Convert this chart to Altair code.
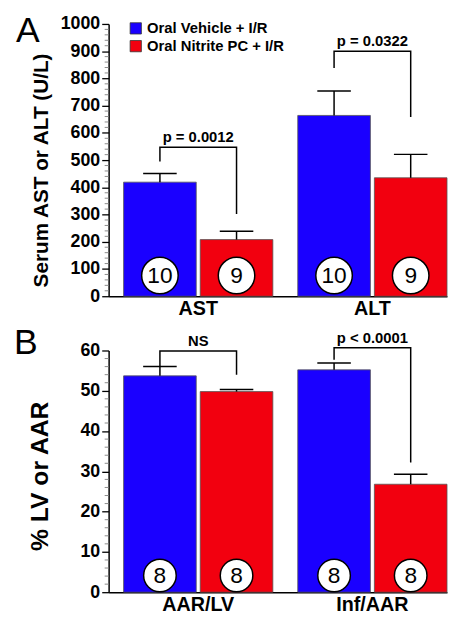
import altair as alt
import pandas as pd

FONT = "Liberation Sans"
groups = ["Oral Vehicle + I/R", "Oral Nitrite PC + I/R"]
colors = ["#1a00ff", "#f2000f"]

# Panel A: serum enzymes (U/L)
a_cats = ["AST", "ALT"]
a_veh_mean = [419, 664]
a_veh_upper = [451, 754]
a_nit_mean = [208, 435]
a_nit_upper = [239, 521]
a_veh_n = ["10", "10"]
a_nit_n = ["9", "9"]
a_p = ["p = 0.0012", "p = 0.0322"]
a_br_top = [547, 900]
a_br_left = [495, 838]
a_br_right = [302, 658]

# Panel B: % LV or AAR
b_cats = ["AAR/LV", "Inf/AAR"]
b_veh_mean = [53.7, 55.2]
b_veh_upper = [56.0, 56.9]
b_nit_mean = [49.8, 26.8]
b_nit_upper = [50.3, 29.3]
b_veh_n = ["8", "8"]
b_nit_n = ["8", "8"]
b_p = ["NS", "p < 0.0001"]
b_br_top = [59.9, 60.7]
b_br_left = [56.0, 57.7]
b_br_right = [54.0, 32.2]


def panel(cats, vm, vu, nm, nu, vn, nn, plabels, btop, bleft, bright,
          ymax, major, minor, ytitle, tsize, height, title_pad, title_y,
          show_legend, letter, letter_x, letter_y, csize, coff):
    bars = pd.DataFrame({
        "cat": cats + cats,
        "grp": [groups[0]] * len(cats) + [groups[1]] * len(cats),
        "val": vm + nm,
        "upper": vu + nu,
        "n": vn + nn,
    })
    rows = []
    for i, c in enumerate(cats):
        rows += [
            {"cat": c, "grp": groups[0], "val": bleft[i], "ord": 0},
            {"cat": c, "grp": groups[0], "val": btop[i], "ord": 1},
            {"cat": c, "grp": groups[1], "val": btop[i], "ord": 2},
            {"cat": c, "grp": groups[1], "val": bright[i], "ord": 3},
        ]
    brackets = pd.DataFrame(rows)
    ptext = pd.DataFrame({"cat": cats, "top": btop, "p": plabels})
    minor_ticks = pd.DataFrame(
        {"val": [v for v in range(0, ymax + 1, minor) if v % major]})

    X = alt.X("cat:N", sort=cats,
              scale=alt.Scale(paddingInner=0.143, paddingOuter=0.043, align=1),
              axis=alt.Axis(title=None, labelAngle=0, labelFont=FONT,
                            labelFontSize=20, labelFontWeight="bold",
                            labelColor="black", ticks=False, domainColor="black",
                            domainWidth=1.5, labelPadding=3))
    XO = alt.XOffset("grp:N", sort=groups,
                     scale=alt.Scale(paddingInner=0.052, paddingOuter=0))
    yaxis = alt.Axis(values=list(range(0, ymax + 1, major)), format="d",
                     tickSize=7, tickColor="black", tickWidth=1.3,
                     domainColor="black", domainWidth=1.5,
                     labelFont=FONT, labelFontSize=18, labelFontWeight="bold",
                     labelColor="black", labelPadding=2, labelOverlap=False,
                     grid=False, title=ytitle, titleFont=FONT,
                     titleFontSize=tsize, titleFontWeight="bold",
                     titleColor="black", titlePadding=title_pad,
                     titleY=title_y)
    yscale = alt.Scale(domain=[0, ymax], nice=False, zero=True)

    def Y(field):
        return alt.Y(field, scale=yscale, axis=yaxis)

    legend = (alt.Legend(title=None, orient="none", legendX=20, legendY=-3,
                         symbolType="square", symbolSize=130,
                         symbolStrokeColor="#333", symbolStrokeWidth=0.8,
                         labelFont=FONT, labelFontSize=15, labelFontWeight="bold",
                         labelColor="black", rowPadding=2, labelOffset=4,
                         padding=0, labelLimit=300)
              if show_legend else None)

    bar = alt.Chart(bars).mark_bar(stroke="#555", strokeWidth=0.8).encode(
        x=X, xOffset=XO, y=Y("val:Q"),
        color=alt.Color("grp:N", sort=groups,
                        scale=alt.Scale(domain=groups, range=colors),
                        legend=legend),
    )
    mticks = alt.Chart(minor_ticks).mark_rule(color="#8a8a8a", strokeWidth=1).encode(
        x=alt.value(-4), x2=alt.value(0), y=Y("val:Q"))
    stem = alt.Chart(bars).mark_rule(color="black", strokeWidth=1.5).encode(
        x=X, xOffset=XO, y=Y("val:Q"), y2="upper:Q")
    cap = alt.Chart(bars).mark_tick(color="black", thickness=1.5, size=34,
                                    opacity=1).encode(
        x=X, xOffset=XO, y=Y("upper:Q"))
    circ = alt.Chart(bars).mark_point(shape="circle", filled=True, fill="white",
                                      stroke="black", strokeWidth=1.5,
                                      size=csize, opacity=1,
                                      yOffset=-coff).encode(
        x=X, xOffset=XO, y=alt.datum(0, scale=yscale, axis=yaxis))
    ntext = alt.Chart(bars).mark_text(font=FONT, fontSize=23, color="black",
                                      baseline="middle", yOffset=-coff + 1).encode(
        x=X, xOffset=XO, y=alt.datum(0, scale=yscale, axis=yaxis), text="n:N")
    br = alt.Chart(brackets).mark_line(color="black", strokeWidth=1.5).encode(
        x=X, xOffset=XO, y=Y("val:Q"), detail="cat:N", order="ord:Q")
    pt = alt.Chart(ptext).mark_text(font=FONT, fontSize=15, fontWeight="bold",
                                    color="black", baseline="alphabetic",
                                    dy=-5).encode(
        x=X, y=Y("top:Q"), text="p:N")
    let = alt.Chart(pd.DataFrame({"t": [letter]})).mark_text(
        font=FONT, fontSize=36, color="black", align="center",
        baseline="middle").encode(
        x=alt.value(letter_x), y=alt.value(letter_y), text="t:N")

    return alt.layer(bar, mticks, stem, cap, br, pt, circ, ntext, let).properties(
        width=343, height=height)


A = panel(a_cats, a_veh_mean, a_veh_upper, a_nit_mean, a_nit_upper, a_veh_n,
          a_nit_n, a_p, a_br_top, a_br_left, a_br_right, 1000, 100, 20,
          "Serum AST or ALT (U/L)", 21, 276, 9, 148, True, "A", -82, 7, 1370, 21)
B = panel(b_cats, b_veh_mean, b_veh_upper, b_nit_mean, b_nit_upper, b_veh_n,
          b_nit_n, b_p, b_br_top, b_br_left, b_br_right, 60, 10, 2,
          "% LV or AAR", 25, 245, 28, 127, False, "B", -84, -7, 1090, 17)

chart = alt.vconcat(A, B, spacing=7).resolve_scale(
    color="independent", x="independent", y="independent"
).properties(
    padding={"left": 5, "top": 1, "right": 0, "bottom": 0}
).configure_view(stroke=None)

chart.save("out.html", embed_options={"renderer": "svg", "actions": False})
